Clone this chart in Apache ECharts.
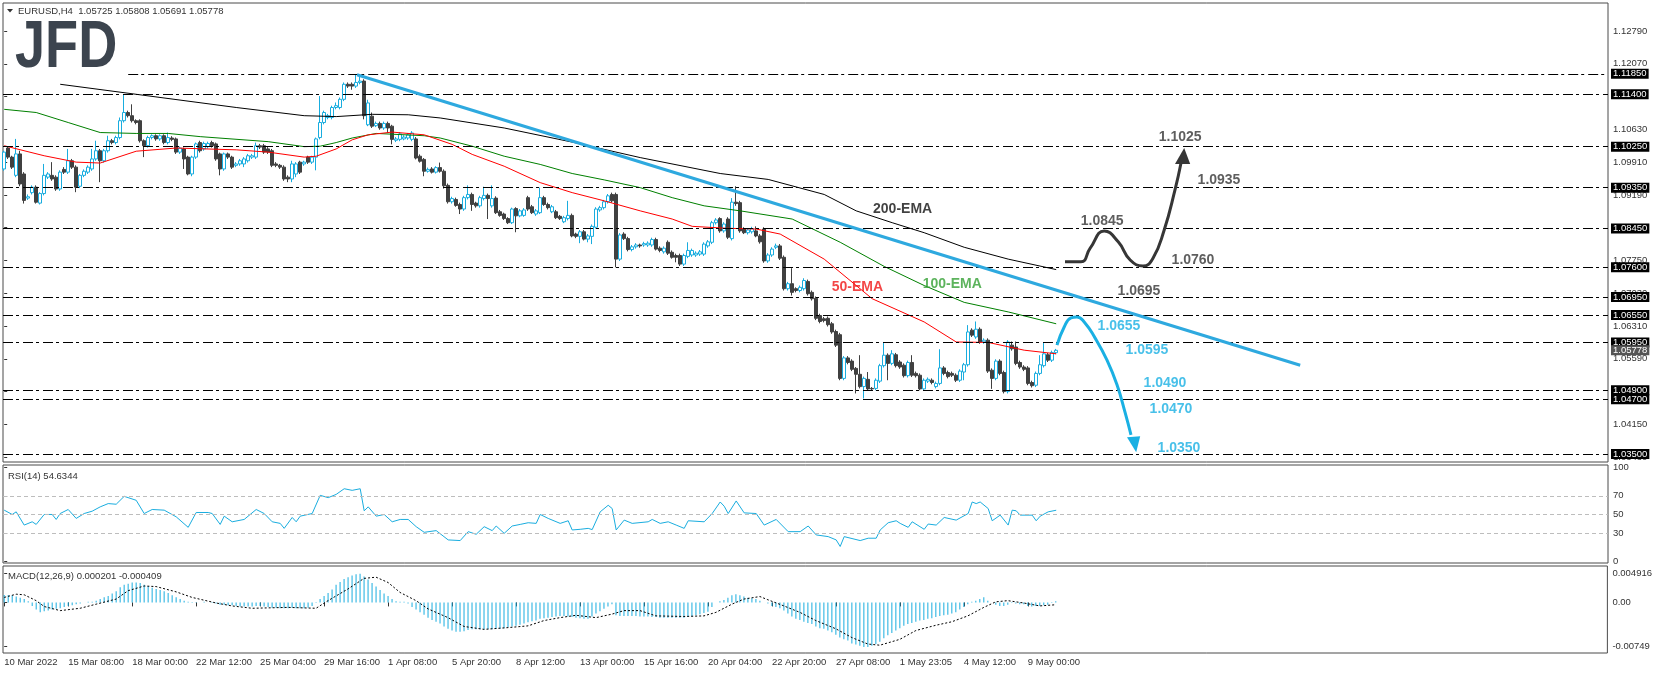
<!DOCTYPE html>
<html>
<head>
<meta charset="utf-8">
<title>EURUSD H4</title>
<script src="https://cdn.jsdelivr.net/npm/echarts@6/dist/echarts.min.js"></script>
<style>html,body{margin:0;padding:0;background:#fff;}</style>
</head>
<body>
<div id="main" style="width:1655px;height:673px;"></div>
<script>
var FONT = '"Liberation Sans", Arial, sans-serif';
var CYAN = '#19addf';
var DARK = '#404040';

// one H4 bar each: [open, close, low, high]
var candles = [
[1.0976,1.1013,1.0972,1.1016],[1.1022,1.1002,1.0998,1.1025],[1.1002,1.0980,1.0976,1.1005],[1.0962,1.1009,1.0958,1.1042],
[1.1009,1.0943,1.0938,1.1016],[1.0965,1.0907,1.0900,1.0969],[1.0912,1.0915,1.0908,1.0920],[1.0924,1.0936,1.0920,1.0940],
[1.0936,1.0903,1.0900,1.0940],[1.0901,1.0922,1.0898,1.0925],[1.0922,1.0962,1.0918,1.0987],[1.0958,1.0965,1.0954,1.0969],
[1.0962,1.0954,1.0950,1.0991],[1.0958,1.0932,1.0928,1.0962],[1.0932,1.0969,1.0928,1.0973],[1.0975,1.0969,1.0965,1.0980],
[1.0969,1.0994,1.0965,1.1020],[1.0994,1.0980,1.0976,1.0998],[1.0980,1.0936,1.0925,1.0984],[1.0938,1.0962,1.0934,1.0965],
[1.0962,1.0971,1.0958,1.0975],[1.0969,1.0980,1.0965,1.0984],[1.0976,1.0998,1.0972,1.1020],[1.0998,1.1016,1.0994,1.1038],
[1.1016,1.0994,1.0947,1.1020],[1.0994,1.1016,1.0990,1.1020],[1.1016,1.1038,1.1012,1.1049],[1.1038,1.1034,1.1030,1.1042],
[1.1034,1.1045,1.1030,1.1049],[1.1045,1.1082,1.1041,1.1089],[1.1082,1.1100,1.1078,1.1140],[1.1100,1.1093,1.1089,1.1104],
[1.1093,1.1082,1.1078,1.1118],[1.1082,1.1078,1.1074,1.1085],[1.1082,1.1038,1.1034,1.1085],[1.1038,1.1027,1.1002,1.1041],
[1.1027,1.1045,1.1023,1.1049],[1.1045,1.1049,1.1041,1.1052],[1.1049,1.1042,1.1038,1.1052],[1.1042,1.1049,1.1038,1.1052],
[1.1049,1.1034,1.1030,1.1052],[1.1034,1.1045,1.1030,1.1056],[1.1044,1.1041,1.1037,1.1048],[1.1042,1.1013,1.1009,1.1045],
[1.1013,1.1022,1.1009,1.1025],[1.1020,1.0998,1.0976,1.1023],[1.1002,1.0965,1.0962,1.1005],[1.0965,1.1002,1.0960,1.1005],
[1.1002,1.1031,1.0998,1.1034],[1.1034,1.1016,1.1012,1.1038],[1.1020,1.1032,1.1016,1.1036],[1.1025,1.1032,1.1021,1.1036],
[1.1034,1.1027,1.1023,1.1038],[1.1031,1.0998,1.0994,1.1034],[1.1009,1.0976,1.0962,1.1012],[1.0976,1.1009,1.0972,1.1012],
[1.1009,1.1002,1.0998,1.1012],[1.1002,1.0980,1.0976,1.1005],[1.0984,1.0987,1.0980,1.0991],[1.0987,1.0994,1.0983,1.0998],
[1.0987,1.0998,1.0980,1.1002],[1.0994,1.1005,1.0990,1.1009],[1.1002,1.1005,1.0998,1.1009],[1.1002,1.1027,1.0998,1.1034],
[1.1027,1.1024,1.1020,1.1031],[1.1027,1.1013,1.1009,1.1031],[1.1020,1.1013,1.1009,1.1024],[1.1016,1.0984,1.0980,1.1020],
[1.0987,1.0984,1.0980,1.0991],[1.0984,1.0980,1.0976,1.0987],[1.0980,1.0954,1.0950,1.0984],[1.0958,1.0954,1.0947,1.0962],
[1.0954,1.0987,1.0947,1.0994],[1.0965,1.0987,1.0958,1.0991],[1.0991,1.0969,1.0965,1.0994],[1.0987,1.0991,1.0983,1.0994],
[1.1002,1.0991,1.0987,1.1005],[1.0991,1.1002,1.0987,1.1005],[1.1002,1.1042,1.0973,1.1045],[1.1045,1.1078,1.1041,1.1136],
[1.1078,1.1100,1.1074,1.1104],[1.1089,1.1093,1.1085,1.1097],[1.1089,1.1111,1.1085,1.1115],[1.1111,1.1115,1.1107,1.1122],
[1.1111,1.1129,1.1107,1.1133],[1.1129,1.1162,1.1125,1.1166],[1.1162,1.1158,1.1154,1.1166],[1.1162,1.1158,1.1150,1.1166],
[1.1158,1.1166,1.1154,1.1184],[1.1166,1.1169,1.1162,1.1180],[1.1169,1.1093,1.1085,1.1173],[1.1073,1.1121,1.1070,1.1128],
[1.1092,1.1070,1.1066,1.1100],[1.1071,1.1076,1.1068,1.1080],[1.1076,1.1066,1.1062,1.1080],[1.1066,1.1076,1.1062,1.1080],
[1.1076,1.1066,1.1055,1.1080],[1.1070,1.1041,1.1030,1.1073],[1.1039,1.1042,1.1035,1.1046],[1.1041,1.1053,1.1037,1.1057],
[1.1042,1.1046,1.1039,1.1050],[1.1044,1.1051,1.1040,1.1055],[1.1041,1.1055,1.1037,1.1059],[1.1042,1.1000,1.0997,1.1046],
[1.1004,1.0993,1.0990,1.1008],[1.0997,1.0971,1.0960,1.1000],[1.0971,1.0975,1.0968,1.0979],[1.0976,1.0969,1.0966,1.0980],
[1.0969,1.0979,1.0966,1.0982],[1.0979,1.0971,1.0968,1.0990],[1.0971,1.0939,1.0933,1.0975],[1.0940,1.0904,1.0900,1.0944],
[1.0904,1.0911,1.0900,1.0915],[1.0909,1.0896,1.0893,1.0913],[1.0898,1.0888,1.0877,1.0902],[1.0888,1.0913,1.0884,1.0917],
[1.0913,1.0920,1.0909,1.0940],[1.0920,1.0898,1.0884,1.0924],[1.0901,1.0895,1.0891,1.0904],[1.0895,1.0913,1.0891,1.0917],
[1.0911,1.0918,1.0907,1.0937],[1.0918,1.0911,1.0866,1.0922],[1.0895,1.0911,1.0891,1.0940],[1.0912,1.0880,1.0877,1.0916],
[1.0882,1.0874,1.0871,1.0886],[1.0877,1.0867,1.0864,1.0880],[1.0867,1.0858,1.0855,1.0870],[1.0858,1.0888,1.0855,1.0891],
[1.0889,1.0873,1.0837,1.0892],[1.0873,1.0884,1.0870,1.0888],[1.0874,1.0886,1.0871,1.0890],[1.0913,1.0888,1.0884,1.0917],
[1.0893,1.0880,1.0877,1.0897],[1.0877,1.0884,1.0873,1.0888],[1.0880,1.0913,1.0877,1.0935],[1.0913,1.0898,1.0895,1.0917],
[1.0898,1.0891,1.0887,1.0902],[1.0882,1.0893,1.0879,1.0897],[1.0882,1.0869,1.0866,1.0886],[1.0872,1.0867,1.0864,1.0875],
[1.0860,1.0869,1.0857,1.0873],[1.0867,1.0874,1.0863,1.0906],[1.0874,1.0829,1.0826,1.0878],[1.0833,1.0828,1.0824,1.0836],
[1.0828,1.0838,1.0813,1.0842],[1.0838,1.0822,1.0819,1.0842],[1.0822,1.0829,1.0815,1.0833],[1.0828,1.0850,1.0811,1.0854],
[1.0848,1.0888,1.0845,1.0892],[1.0886,1.0891,1.0882,1.0895],[1.0891,1.0904,1.0887,1.0908],[1.0904,1.0917,1.0900,1.0921],
[1.0920,1.0906,1.0902,1.0924],[1.0920,1.0778,1.0760,1.0924],[1.0778,1.0831,1.0774,1.0835],[1.0833,1.0823,1.0820,1.0837],
[1.0823,1.0799,1.0795,1.0827],[1.0799,1.0805,1.0795,1.0809],[1.0805,1.0809,1.0801,1.0813],[1.0809,1.0807,1.0803,1.0812],
[1.0809,1.0812,1.0805,1.0816],[1.0809,1.0813,1.0805,1.0817],[1.0809,1.0821,1.0805,1.0825],[1.0821,1.0800,1.0797,1.0825],
[1.0802,1.0797,1.0793,1.0806],[1.0794,1.0802,1.0790,1.0806],[1.0815,1.0791,1.0787,1.0819],[1.0793,1.0782,1.0779,1.0797],
[1.0786,1.0782,1.0771,1.0790],[1.0786,1.0767,1.0763,1.0790],[1.0767,1.0786,1.0763,1.0790],[1.0784,1.0797,1.0780,1.0815],
[1.0787,1.0797,1.0783,1.0801],[1.0787,1.0791,1.0783,1.0795],[1.0789,1.0794,1.0785,1.0798],[1.0789,1.0811,1.0785,1.0815],
[1.0807,1.0816,1.0803,1.0820],[1.0815,1.0858,1.0811,1.0862],[1.0858,1.0864,1.0854,1.0868],[1.0867,1.0840,1.0836,1.0870],
[1.0840,1.0855,1.0836,1.0859],[1.0866,1.0826,1.0822,1.0870],[1.0823,1.0903,1.0819,1.0912],[1.0903,1.0900,1.0895,1.0938],
[1.0902,1.0840,1.0836,1.0906],[1.0844,1.0836,1.0833,1.0848],[1.0836,1.0842,1.0832,1.0846],[1.0838,1.0845,1.0834,1.0849],
[1.0840,1.0829,1.0826,1.0850],[1.0829,1.0816,1.0812,1.0833],[1.0844,1.0774,1.0770,1.0848],[1.0774,1.0787,1.0770,1.0791],
[1.0787,1.0800,1.0783,1.0804],[1.0804,1.0807,1.0800,1.0812],[1.0807,1.0780,1.0776,1.0811],[1.0782,1.0713,1.0709,1.0786],
[1.0713,1.0724,1.0709,1.0728],[1.0724,1.0705,1.0698,1.0758],[1.0713,1.0709,1.0705,1.0716],[1.0709,1.0716,1.0705,1.0720],
[1.0713,1.0731,1.0709,1.0736],[1.0729,1.0702,1.0698,1.0733],[1.0705,1.0691,1.0687,1.0709],[1.0692,1.0648,1.0644,1.0696],
[1.0654,1.0641,1.0637,1.0658],[1.0647,1.0643,1.0639,1.0651],[1.0648,1.0634,1.0630,1.0652],[1.0636,1.0618,1.0614,1.0640],
[1.0619,1.0589,1.0585,1.0623],[1.0612,1.0516,1.0512,1.0616],[1.0516,1.0561,1.0512,1.0565],[1.0561,1.0551,1.0547,1.0565],
[1.0554,1.0536,1.0532,1.0558],[1.0538,1.0525,1.0483,1.0541],[1.0525,1.0498,1.0494,1.0567],[1.0498,1.0516,1.0472,1.0520],
[1.0514,1.0493,1.0490,1.0530],[1.0494,1.0493,1.0490,1.0497],[1.0494,1.0512,1.0490,1.0516],[1.0510,1.0544,1.0506,1.0548],
[1.0544,1.0567,1.0540,1.0596],[1.0567,1.0549,1.0512,1.0571],[1.0549,1.0570,1.0545,1.0578],[1.0568,1.0544,1.0540,1.0572],
[1.0552,1.0541,1.0537,1.0556],[1.0545,1.0522,1.0518,1.0549],[1.0522,1.0551,1.0518,1.0555],[1.0551,1.0523,1.0519,1.0567],
[1.0527,1.0522,1.0518,1.0531],[1.0523,1.0493,1.0490,1.0527],[1.0493,1.0512,1.0490,1.0516],[1.0510,1.0514,1.0506,1.0518],
[1.0512,1.0507,1.0503,1.0516],[1.0498,1.0505,1.0494,1.0509],[1.0505,1.0539,1.0501,1.0580],[1.0539,1.0527,1.0523,1.0543],
[1.0529,1.0520,1.0516,1.0533],[1.0527,1.0523,1.0519,1.0531],[1.0523,1.0512,1.0508,1.0527],[1.0512,1.0532,1.0508,1.0536],
[1.0530,1.0546,1.0512,1.0550],[1.0546,1.0618,1.0542,1.0633],[1.0622,1.0611,1.0607,1.0626],[1.0607,1.0624,1.0603,1.0641],
[1.0624,1.0596,1.0592,1.0628],[1.0596,1.0600,1.0592,1.0604],[1.0600,1.0532,1.0528,1.0604],[1.0534,1.0516,1.0493,1.0538],
[1.0516,1.0554,1.0512,1.0558],[1.0554,1.0527,1.0523,1.0558],[1.0529,1.0487,1.0483,1.0533],[1.0487,1.0596,1.0483,1.0600],
[1.0589,1.0581,1.0577,1.0597],[1.0585,1.0549,1.0545,1.0597],[1.0551,1.0541,1.0537,1.0555],[1.0541,1.0536,1.0532,1.0545],
[1.0539,1.0505,1.0501,1.0543],[1.0507,1.0500,1.0496,1.0511],[1.0501,1.0527,1.0497,1.0531],[1.0527,1.0546,1.0523,1.0567],
[1.0544,1.0570,1.0540,1.0594],[1.0568,1.0556,1.0552,1.0572],[1.0556,1.0573,1.0552,1.0577],[1.05725,1.05778,1.05691,1.05808]
];

// moving averages: [bar, price]
var ema50 = [[0,1.1027],[10,1.1005],[18,1.0991],[24,1.0989],[33,1.1015],[43,1.1022],[58,1.1018],[66,1.1013],[75,1.1002],[78,1.1004],
  [83,1.1020],[87,1.1040],[91,1.1051],[97,1.1057],[105,1.1051],[112,1.1030],[117,1.1008],[125,1.0982],[134,1.0946],[142,1.0924],
  [150,1.0906],[159,1.0884],[167,1.0866],[172,1.0850],[180,1.0846],[188,1.0844],[194,1.0833],[205,1.0778],[217,1.0691],[230,1.0640],
  [238,1.0596],[246,1.0595],[255,1.0578],[263,1.0570]];
var ema100 = [[0,1.1107],[8,1.1100],[16,1.1078],[24,1.1056],[33,1.1054],[41,1.1054],[49,1.1047],[66,1.1036],[75,1.1025],[79,1.1026],
  [83,1.1034],[87,1.1044],[93,1.1054],[105,1.1049],[109,1.1044],[117,1.1026],[125,1.1004],[134,1.0986],[142,1.0966],[150,1.0952],
  [159,1.0935],[167,1.0913],[175,1.0895],[184,1.0884],[197,1.0866],[209,1.0815],[220,1.0762],[230,1.0720],[240,1.0683],[251,1.0662],
  [263,1.0636]];
var ema200 = [[14,1.1162],[33,1.1140],[58,1.1111],[75,1.1093],[83,1.1091],[92,1.1096],[101,1.1095],[109,1.1088],[125,1.1066],
  [142,1.1035],[159,1.1001],[179,1.0966],[191,1.0953],[205,1.0920],[213,1.0884],[222,1.0858],[230,1.0836],[240,1.0804],
  [251,1.0778],[263,1.0755]];

var trendLine = [[88.2,1.1183],[324,1.0545]];
var levels = [1.1185,1.1140,1.1025,1.0935,1.0845,1.0760,1.0695,1.0655,1.0595,1.0490,1.0470,1.0350];
var levelFrom = [31,-0.3,-0.3,-0.3,-0.3,-0.3,-0.3,-0.3,-0.3,-0.3,-0.3,-0.3];
var lastClose = 1.05778;

// scenario arrows
var bullPath = [[265.2,1.0772],[269.2,1.0772],[271.5,1.0802],[275,1.0840],[278.5,1.0816],[281.5,1.0776],[284.7,1.0763],
  [287.2,1.0780],[290,1.0842],[292.7,1.0930],[294.2,1.0989]];
var bearPath = [[263.2,1.0589],[265,1.0629],[266.7,1.0649],[268.2,1.0651],[270,1.0640],[272.7,1.0605],[275.7,1.0556],
  [278.2,1.0502],[280.2,1.0442],[281.7,1.0392]];
var arrowHeads = [
  [[295,1.1022],[292.7,1.0987],[296.5,1.0987]],
  [[283,1.0354],[280.7,1.0387],[284,1.0389]]
];
var headColors = ['#363636', '#1ab0e3'];

var darkNotes = [[294,1.1046,'1.1025'],[303.7,1.0952,'1.0935'],[274.5,1.0862,'1.0845'],[297.2,1.0776,'1.0760'],[283.7,1.0708,'1.0695']];
var blueNotes = [[278.7,1.0631,'1.0655'],[285.7,1.0578,'1.0595'],[290.2,1.0506,'1.0490'],[291.7,1.0449,'1.0470'],[293.7,1.0363,'1.0350']];
var emaNotes = [[224.6,1.0887,'200-EMA'],[213.3,1.0717,'50-EMA'],[237,1.0723,'100-EMA']];
var emaNoteColors = ['#111111', '#f01818', '#34a034'];

var rsi = [[0,54.7],[2,50.1],[3,52.9],[5,38.8],[7,42.3],[8,39.5],[10,50.1],[12,50.1],[13,44.8],[14,51.1],[16,55.4],[18,45.9],
  [20,51.1],[22,53.6],[24,58.2],[26,61.7],[28,61],[30,69.4],[33,65.2],[35,51.1],[37,55.4],[40,54.7],[43,47.6],[46,36.4],
  [48,52.2],[51,52.2],[52,51.1],[54,39.5],[55,48.3],[57,42.3],[60,44.8],[63,55.4],[65,51.1],[67,42.3],[69,40.6],[70,35.3],
  [72,46.9],[73,42.3],[74,48.3],[77,51.1],[79,70.5],[81,68],[83,71.5],[85,77.5],[87,75.8],[89,77.5],[90,54],[91,58.2],
  [93,48.3],[95,50.1],[97,42.3],[99,44.8],[101,44.8],[103,37.1],[105,31.1],[108,32.9],[111,23],[114,22.3],[116,31.8],[118,29],
  [120,37.1],[122,32.9],[123,37.8],[125,30],[127,37.8],[129,39.5],[131,41.3],[133,40.6],[134,50.1],[136,45.9],[139,40.6],
  [141,43.4],[142,33.6],[144,34.3],[146,35.3],[147,34],[149,52.9],[151,59.9],[152,56.4],[153,33.6],[155,44.1],[157,40.6],
  [161,42.3],[162,44.8],[164,40.6],[166,42.3],[168,38.8],[170,35.3],[171,43.4],[175,42.3],[177,51.1],[179,63.4],[180,58.9],
  [181,51.1],[183,64.5],[185,51.8],[188,51.1],[190,38.8],[193,44.8],[196,31.8],[199,31.8],[201,37.8],[203,28.3],[206,26.5],
  [208,23],[209,16],[210,26.5],[214,22.3],[216,24.8],[218,24.8],[219,33.6],[221,41.3],[223,43.4],[224,40.6],[226,36.4],
  [227,42.3],[230,34.3],[231,39.9],[233,38.8],[235,46.9],[238,44.1],[241,51.1],[242,63.4],[243,61.7],[244,63.4],[246,56.4],
  [247,43.4],[249,49.4],[251,38.8],[252,54.7],[253,54],[254,49.4],[257,49.4],[258,43.4],[259,48.3],[261,52.9],[263,54.6]];
var rsiLevels = [70, 50, 30];
var rsiTicks = [100, 70, 50, 30, 0];

// MACD main (histogram, one per bar) and signal [bar, value]
var macdHist = [
  0.00125,0.00125,0.0012,0.001,0.0008,0.0006,0.0002,
  -0.0006,-0.0012,-0.0017,-0.0015,
  -0.0014,-0.0012,-0.0011,-0.001,-0.0008,-0.0006,
  -0.0005,-0.0003,-0.0002,0,0.0001,0.0001,
  0.0003,0.0006,0.0009,0.0011,0.0015,0.0019,0.0026,
  0.003,0.0032,0.0034,0.0034,0.0033,0.003,0.0028,
  0.0025,0.0023,0.0021,0.0019,0.0016,0.0012,0.0009,
  0.0006,0.0003,0.0001,-0.0001,-0.0001,0,0.0001,
  0,-0.0001,-0.0002,-0.0004,-0.0004,-0.0005,-0.0005,
  -0.0006,-0.0007,-0.0007,-0.0007,-0.0007,-0.0006,-0.0006,
  -0.0007,-0.0008,-0.0009,-0.0009,-0.001,-0.001,-0.001,
  -0.0009,-0.001,-0.001,-0.001,-0.0009,-0.0006,-0.0001,
  0.0006,0.0011,0.0016,0.0022,0.003,0.0035,0.004,
  0.0043,0.0046,0.0048,0.0049,0.0044,0.0039,0.0033,
  0.0027,0.0021,0.0015,0.0011,0.0006,0.0002,0.0001,
  0.0001,-0.0002,-0.0008,-0.0012,-0.0017,-0.0021,-0.0026,
  -0.003,-0.0033,-0.0036,-0.0041,-0.0045,-0.0048,-0.005,
  -0.005,-0.0049,-0.0047,-0.0046,-0.0046,-0.0046,-0.0046,
  -0.0046,-0.0046,-0.0045,-0.0045,-0.0044,-0.0042,-0.0041,
  -0.004,-0.0038,-0.0036,-0.0034,-0.0032,-0.0031,-0.0028,
  -0.0027,-0.0026,-0.0025,-0.0024,-0.0023,-0.0023,-0.0024,
  -0.0025,-0.0026,-0.0027,-0.0028,-0.0028,-0.0024,-0.0019,
  -0.0015,-0.0011,-0.0007,-0.0003,-0.0022,-0.0023,-0.0023,
  -0.0023,-0.0023,-0.0023,-0.0024,-0.0024,-0.0024,-0.0025,
  -0.0025,-0.0026,-0.0026,-0.0026,-0.0026,-0.0026,-0.0026,
  -0.0026,-0.0025,-0.0024,-0.0022,-0.002,-0.0018,-0.0016,
  -0.0008,0,0.0002,0.0004,0.0008,0.0012,0.0014,
  0.0012,0.001,0.0008,0.0007,0.0006,0.0003,0,
  -0.0002,-0.0006,-0.0008,-0.001,-0.0014,-0.0019,-0.0024,
  -0.0028,-0.003,-0.0033,-0.0035,-0.0037,-0.0041,-0.0044,
  -0.0045,-0.0048,-0.0051,-0.0055,-0.006,-0.0063,-0.0065,
  -0.007,-0.0072,-0.0074,-0.0076,-0.0076,-0.0074,-0.0071,
  -0.0067,-0.0061,-0.0056,-0.0052,-0.0048,-0.0044,-0.004,
  -0.0037,-0.0035,-0.0033,-0.0031,-0.003,-0.0028,-0.0027,
  -0.0025,-0.0023,-0.0022,-0.0021,-0.0019,-0.0017,-0.0012,
  -0.0008,-0.0003,0.0001,0.0003,0.0006,0.0009,0.0003,
  0,-0.0004,-0.0006,-0.0006,-0.0004,-0.0001,-0.0002,
  -0.0003,-0.0003,-0.0006,-0.0007,-0.0006,-0.0006,-0.0005,
  -0.0004,-0.0001,0.0002
];
var macdSignal = [[0,0.00085],[3,0.0014],[5,0.0013],[8,0.0003],[10,-0.0007],[14,-0.0014],[19,-0.001],[23,-0.0003],[28,0.00057],
  [31,0.002],[35,0.0028],[38,0.0027],[43,0.0018],[47,0.00085],[53,-0.0001],[57,-0.0006],[62,-0.001],[71,-0.00085],[78,-0.001],
  [81,0.0003],[86,0.0023],[90,0.0041],[93,0.0043],[96,0.0034],[99,0.0017],[103,0.0003],[106,-0.0011],[111,-0.0026],[115,-0.0041],
  [120,-0.0046],[126,-0.0043],[131,-0.004],[135,-0.0031],[139,-0.0026],[143,-0.0022],[148,-0.0026],[152,-0.002],[155,-0.0014],
  [159,-0.0014],[163,-0.0023],[170,-0.0024],[175,-0.0023],[178,-0.0017],[182,-0.0003],[185,0.00057],[189,0.001],[191,0.00045],
  [195,-0.0006],[199,-0.0017],[203,-0.0031],[208,-0.0045],[212,-0.006],[216,-0.0071],[219,-0.0073],[224,-0.0063],[228,-0.0048],
  [233,-0.0039],[237,-0.0033],[241,-0.0023],[245,-0.00085],[248,0.0001],[251,0.0003],[255,-0.0001],[259,-0.0006],[263,-0.0004]];
var macdTicks = [0.004916, 0, -0.00749];
var macdTickText = ['0.004916', '0.00', '-0.00749'];

var priceTicks = [1.1279,1.1207,1.1135,1.1063,1.0991,1.0919,1.0847,1.0775,1.0703,1.0631,1.0559,1.0487,1.0415,1.0343];
var tickBars = [0,16,32,48,64,80,96,112,128,144,160,176,192,208,224,240,256];
var xLabels = ['10 Mar 2022','15 Mar 08:00','18 Mar 00:00','22 Mar 12:00','25 Mar 04:00','29 Mar 16:00','1 Apr 08:00',
  '5 Apr 20:00','8 Apr 12:00','13 Apr 00:00','15 Apr 16:00','20 Apr 04:00','22 Apr 20:00','27 Apr 08:00','1 May 23:05',
  '4 May 12:00','9 May 00:00'];

var xMin = -0.3, xMax = 400.95;
var myChart = echarts.init(document.getElementById('main'));

function noteSeries(notes, colors) {
  return {
    type: 'scatter', xAxisIndex: 0, yAxisIndex: 0, symbolSize: 0, silent: true, z: 6,
    data: notes.map(function (n, i) {
      return {value: n, label: {color: colors[i % colors.length]}};
    }),
    label: {
      show: true, position: 'inside', fontFamily: FONT, fontSize: 14, fontWeight: 'bold',
      formatter: function (p) { return p.value[2]; }
    }
  };
}

var hiddenX = function (i) {
  return { gridIndex: i, type: 'value', min: xMin, max: xMax, show: i === 2,
    axisLine: {show: false}, splitLine: {show: false},
    axisTick: {show: i === 2, customValues: tickBars, length: 4, lineStyle: {color: '#333'}},
    axisLabel: {show: i === 2, customValues: tickBars, align: 'left', margin: 4, color: '#333', fontSize: 9.5, fontFamily: FONT,
      formatter: function (v) { return xLabels[tickBars.indexOf(v)] || ''; }} };
};

var labelBase = {fontSize: 9.5, fontFamily: FONT, color: '#333'};

option = {
  animation: false,
  backgroundColor: '#fff',
  grid: [
    {left: 3, right: 47, top: 3, height: 459, show: true, borderColor: '#4a4a4a', borderWidth: 1},
    {left: 3, right: 47, top: 465, height: 98, show: true, borderColor: '#4a4a4a', borderWidth: 1},
    {left: 3, right: 47, top: 566, height: 87, show: true, borderColor: '#4a4a4a', borderWidth: 1}
  ],
  xAxis: [hiddenX(0), hiddenX(1), hiddenX(2)],
  yAxis: [
    { gridIndex: 0, type: 'value', position: 'right', min: 1.03324, max: 1.13405, splitLine: {show: false}, axisLine: {show: false},
      axisTick: {show: true, customValues: priceTicks, length: 3, lineStyle: {color: '#333'}},
      axisLabel: Object.assign({customValues: priceTicks, margin: 5, formatter: function (v) { return v.toFixed(5); }}, labelBase) },
    { gridIndex: 0, type: 'value', position: 'right', min: 1.03324, max: 1.13405, splitLine: {show: false}, axisLine: {show: false},
      axisTick: {show: false},
      axisLabel: {customValues: levels, margin: 3, fontSize: 9.5, fontFamily: FONT, color: '#fff', backgroundColor: '#000',
        padding: [0, 2], lineHeight: 10, formatter: function (v) { return v.toFixed(5); }} },
    { gridIndex: 0, type: 'value', position: 'right', min: 1.03324, max: 1.13405, splitLine: {show: false}, axisLine: {show: false},
      axisTick: {show: false},
      axisLabel: {customValues: [lastClose], margin: 3, fontSize: 9.5, fontFamily: FONT, color: '#fff', backgroundColor: '#555',
        padding: [0, 2], lineHeight: 10, formatter: function (v) { return v.toFixed(5); }} },
    { gridIndex: 1, type: 'value', position: 'right', min: -1.6, max: 102.8, splitLine: {show: false}, axisLine: {show: false},
      axisTick: {show: true, customValues: rsiTicks, length: 3, lineStyle: {color: '#333'}},
      axisLabel: Object.assign({customValues: rsiTicks, margin: 5}, labelBase) },
    { gridIndex: 2, type: 'value', position: 'right', min: -0.00863, max: 0.00621, splitLine: {show: false}, axisLine: {show: false},
      axisTick: {show: true, customValues: macdTicks, length: 3, lineStyle: {color: '#333'}},
      axisLabel: Object.assign({customValues: macdTicks, margin: 5,
        formatter: function (v) { return macdTickText[macdTicks.indexOf(v)]; }}, labelBase) }
  ],
  graphic: [
    {type: 'polygon', shape: {points: [[7, 9], [13, 9], [10, 12.5]]}, style: {fill: '#333'}},
    {type: 'text', x: 18, y: 11, style: {text: 'EURUSD,H4  1.05725 1.05808 1.05691 1.05778', fontSize: 9.5,
      fontFamily: FONT, fill: '#333', verticalAlign: 'middle'}},
    {type: 'text', x: 15, y: 49, scaleX: 0.82, style: {text: 'JFD', fontSize: 66, fontWeight: 'bold', fontFamily: FONT,
      fill: '#3c444e', verticalAlign: 'middle'}},
    {type: 'text', x: 8, y: 476, style: {text: 'RSI(14) 54.6344', fontSize: 9.5, fontFamily: FONT, fill: '#333', verticalAlign: 'middle'}},
    {type: 'text', x: 8, y: 576, style: {text: 'MACD(12,26,9) 0.000201 -0.000409', fontSize: 9.5, fontFamily: FONT, fill: '#333',
      verticalAlign: 'middle'}}
  ],
  series: [
    {
      type: 'candlestick', xAxisIndex: 0, yAxisIndex: 0, barWidth: 3, z: 3,
      dimensions: ['bar', 'open', 'close', 'lowest', 'highest'],
      encode: {x: 'bar', y: ['open', 'close', 'lowest', 'highest']},
      data: candles.map(function (c, i) { return [i, c[0], c[1], c[2], c[3]]; }),
      itemStyle: {color: '#fff', color0: DARK, borderColor: CYAN, borderColor0: DARK, borderWidth: 1},
      markLine: {
        silent: true, symbol: 'none', animation: false, label: {show: false},
        lineStyle: {color: '#000', width: 1, type: [10, 3, 3, 4], opacity: 1},
        data: levels.map(function (v, i) { return [{coord: [levelFrom[i], v]}, {coord: [xMax, v]}]; })
      }
    },
    {type: 'line', xAxisIndex: 0, yAxisIndex: 0, data: ema200, symbol: 'none', z: 4, lineStyle: {color: '#000', width: 1}},
    {type: 'line', xAxisIndex: 0, yAxisIndex: 0, data: ema100, symbol: 'none', z: 4, lineStyle: {color: '#008000', width: 1}},
    {type: 'line', xAxisIndex: 0, yAxisIndex: 0, data: ema50, symbol: 'none', z: 4, lineStyle: {color: '#ff0000', width: 1}},
    {type: 'line', xAxisIndex: 0, yAxisIndex: 0, data: trendLine, symbol: 'none', z: 5, lineStyle: {color: '#2ea9df', width: 3}},
    {type: 'line', xAxisIndex: 0, yAxisIndex: 0, data: bullPath, symbol: 'none', smooth: 0.5, z: 5,
      lineStyle: {color: headColors[0], width: 3}},
    {type: 'line', xAxisIndex: 0, yAxisIndex: 0, data: bearPath, symbol: 'none', smooth: 0.5, z: 5,
      lineStyle: {color: headColors[1], width: 3}},
    {
      type: 'custom', xAxisIndex: 0, yAxisIndex: 0, z: 5, silent: true,
      data: arrowHeads.map(function (h) { return h[0]; }),
      renderItem: function (params, api) {
        var head = arrowHeads[params.dataIndex];
        return {type: 'polygon', shape: {points: head.map(function (p) { return api.coord(p); })},
          style: {fill: headColors[params.dataIndex]}};
      }
    },
    noteSeries(darkNotes, ['#363636']),
    noteSeries(blueNotes, ['#1ab0e3']),
    noteSeries(emaNotes, emaNoteColors),
    {
      type: 'line', xAxisIndex: 1, yAxisIndex: 3, data: rsi, symbol: 'none', lineStyle: {color: CYAN, width: 1},
      markLine: {silent: true, symbol: 'none', label: {show: false}, animation: false,
        lineStyle: {color: '#bdbdbd', width: 1, type: [4, 3]},
        data: rsiLevels.map(function (v) { return {yAxis: v}; })}
    },
    {type: 'bar', xAxisIndex: 2, yAxisIndex: 4, barWidth: 1, itemStyle: {color: CYAN},
      data: macdHist.map(function (v, i) { return [i, v]; })},
    {type: 'line', xAxisIndex: 2, yAxisIndex: 4, data: macdSignal, symbol: 'none', z: 4,
      lineStyle: {color: '#000', width: 1, type: [2, 2]}}
  ]
};

myChart.setOption(option);
</script>
</body>
</html>
